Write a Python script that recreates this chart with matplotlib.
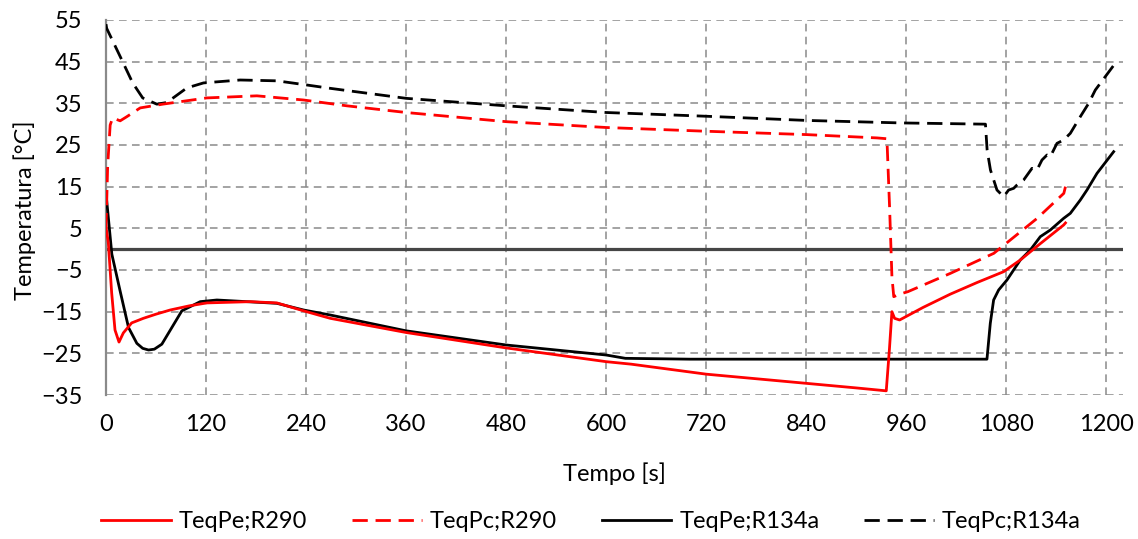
import matplotlib
matplotlib.use("Agg")
import matplotlib.pyplot as plt

# ---------------- data ----------------
t_pe_r290 = [0, 2.8, 6.8, 10.8, 15.6, 20.8, 30.8, 44.8, 60, 77, 100, 121, 173, 205, 237, 269,
             360, 480, 600, 630, 720, 780, 840, 900, 936, 939.8, 942.8, 946, 952, 980,
             1012.8, 1045, 1076.8, 1096.8, 1120, 1148.8, 1151]
T_pe_r290 = [5.4, 1.5, -10.5, -19.4, -22.3, -20.1, -17.7, -16.6, -15.6, -14.6, -13.6, -12.9,
             -12.6, -12.9, -14.8, -16.6, -20.0, -23.7, -27.0, -27.6, -30.0, -31.1, -32.2,
             -33.3, -34.0, -24.0, -15.0, -16.6, -17.0, -14.0, -10.8, -8.0, -5.4, -2.6, 1.2,
             5.8, 6.3]

t_pc_r290 = [0, 2, 5, 8, 17, 25, 41, 68, 121, 181, 237, 289, 360, 480, 600, 720, 840, 925,
             936.8, 940, 942.8, 945, 952, 962, 1013, 1065, 1117, 1149, 1151]
T_pc_r290 = [5.0, 20.0, 29.8, 31.5, 30.8, 31.8, 33.9, 34.8, 36.3, 36.8, 35.8, 34.4, 32.8,
             30.6, 29.2, 28.3, 27.5, 26.7, 26.5, 10.0, -6.6, -11.4, -10.8, -10.2, -5.8,
             -1.0, 7.4, 13.4, 15.0]

t_pe_r134a = [0, 7, 17, 27, 37, 44, 51, 58, 67, 79, 91, 113, 133, 205, 237, 269, 360, 480,
              600, 623, 700, 800, 900, 1000, 1056.8, 1060.8, 1064.8, 1070.8, 1080.8, 1088.8,
              1096.8, 1108.8, 1120.8, 1132.8, 1148.8, 1156.8, 1168.8, 1176.8, 1188.8, 1208.8]
T_pe_r134a = [13.4, -1.2, -10.1, -18.8, -22.6, -23.8, -24.2, -24.0, -22.8, -18.8, -14.8,
              -12.6, -12.2, -13.0, -14.6, -15.8, -19.6, -23.0, -25.4, -26.2, -26.4, -26.4,
              -26.4, -26.4, -26.4, -17.8, -12.2, -9.8, -7.4, -5.0, -2.6, -0.2, 3.0, 4.6,
              7.4, 8.6, 11.8, 14.2, 18.2, 23.4]

t_pc_r134a = [0, 0.8, 19, 32, 44, 61, 73, 97, 117, 161, 205, 241, 269, 284, 360, 480, 600,
              720, 840, 953, 1055, 1057, 1061, 1068.8, 1076.8, 1082.8, 1088.8, 1092.8,
              1100.8, 1110.8, 1116.8, 1122.8, 1128.8, 1132.8, 1140.8, 1148.8, 1156.8,
              1168.8, 1178.8, 1186.8, 1208.4]
T_pc_r134a = [54.0, 53.0, 45.4, 39.9, 36.3, 34.8, 35.2, 38.7, 39.9, 40.6, 40.4, 39.4, 38.6,
              38.2, 36.2, 34.4, 32.8, 31.9, 30.9, 30.3, 30.0, 23.8, 19.0, 14.2, 12.6, 14.2,
              14.6, 15.4, 16.6, 19.4, 19.0, 21.4, 22.6, 22.2, 25.4, 26.2, 27.8, 31.8, 35.0,
              38.2, 44.0]

x_ticks = [0, 120, 240, 360, 480, 600, 720, 840, 960, 1080, 1200]
y_ticks = [-35, -25, -15, -5, 5, 15, 25, 35, 45, 55]
labels = ["TeqPe;R290", "TeqPc;R290", "TeqPe;R134a", "TeqPc;R134a"]

# ---------------- figure ----------------
plt.rcParams['font.family'] = ['Lato', 'DejaVu Sans']
FS = 17

fig = plt.figure(figsize=(11.38, 5.39), dpi=100)
ax = fig.add_axes([106/1138, 1-395/539, (1123-106)/1138, (395-20)/539])

dash = (0, (5.5, 2.8))
lw = 2.0
ax.plot(t_pe_r290, T_pe_r290, color='#ff0000', lw=lw, label=labels[0], zorder=4)
ax.plot(t_pc_r290, T_pc_r290, color='#ff0000', lw=lw, ls=dash, label=labels[1], zorder=4)
ax.plot(t_pe_r134a, T_pe_r134a, color='#000000', lw=lw, label=labels[2], zorder=3)
ax.plot(t_pc_r134a, T_pc_r134a, color='#000000', lw=lw, ls=dash, label=labels[3], zorder=3)

ax.axhline(0, color='#454545', lw=2.3, zorder=2)

ax.set_xlim(0, 1220)
ax.set_ylim(-35, 55)
ax.set_xticks(x_ticks)
ax.set_yticks(y_ticks)
ax.grid(True, color='#8a8a8a', lw=1.1, ls=(0, (5, 3.5)))
ax.set_axisbelow(True)
for s in ['top', 'right', 'bottom']:
    ax.spines[s].set_visible(False)
ax.spines['left'].set_color('#8a8a8a')
ax.spines['left'].set_linewidth(1.6)
ax.tick_params(axis='both', length=0, labelsize=FS)
ax.tick_params(axis='y', pad=17)
ax.tick_params(axis='x', pad=14)

ax.set_xlabel("Tempo [s]", fontsize=FS)
ax.set_ylabel("Temperatura [°C]", fontsize=FS)
ax.xaxis.set_label_coords(614/1138, 1-462/539, transform=fig.transFigure)
ax.yaxis.set_label_coords(36/1138, 1-210/539, transform=fig.transFigure)

leg = fig.legend(loc='center', bbox_to_anchor=(591/1138, 1-522/539), ncol=4, frameon=False,
                 fontsize=FS, handlelength=2.95, handletextpad=0.34, columnspacing=1.9,
                 borderaxespad=0)

fig.savefig("out.png", dpi=100)
